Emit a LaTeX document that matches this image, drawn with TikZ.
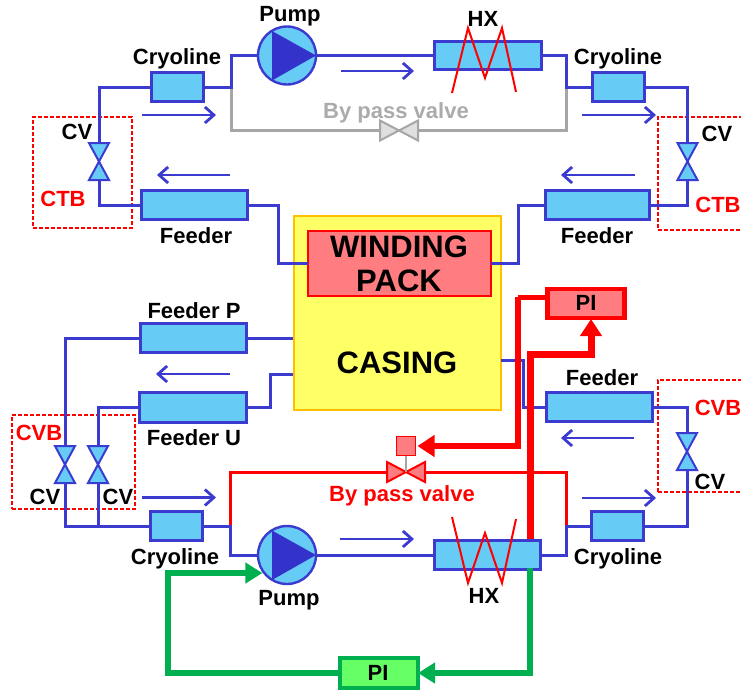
\documentclass[tikz,border=0pt]{standalone}
\usepackage{fontspec}
\setmainfont{Liberation Sans}
\usetikzlibrary{arrows.meta,calc}
\definecolor{pipeblue}{HTML}{3B3BD0}
\definecolor{deepblue}{HTML}{3333CC}
\definecolor{cyanfill}{HTML}{66CCF5}
\definecolor{wpfill}{HTML}{FF7C80}
\definecolor{casefill}{HTML}{FFFF66}
\definecolor{caseedge}{HTML}{FFC000}
\definecolor{greyline}{HTML}{A6A6A6}
\definecolor{greytext}{HTML}{ABABAB}
\definecolor{greenline}{HTML}{00B050}
\definecolor{greenfill}{HTML}{66FF66}
\tikzset{
  cbox/.style={draw=pipeblue,fill=cyanfill,line width=3pt,inner sep=0pt,outer sep=0pt},
  pipe/.style={draw=pipeblue,line width=3pt,line join=miter},
  greypipe/.style={draw=greyline,line width=3pt},
  redpipe/.style={draw=red,line width=3pt},
  flow/.style={draw=pipeblue,line width=2.8pt,-{Straight Barb[length=9pt,width=16pt,line width=2.8pt]}},
  lab/.style={font=\fontsize{22}{22}\selectfont\bfseries,text=black,inner sep=0pt,outer sep=0pt,text height=15.8pt,text depth=0pt},
  redlab/.style={lab,text=red},
  greylab/.style={lab,text=greytext},
  dashbox/.style={draw=red,dash pattern=on 4pt off 2pt,line width=1.2pt,inner sep=0pt,outer sep=0pt},
  vlv/.style={inner sep=0pt,outer sep=0pt},
  vlvblue/.style={draw=pipeblue,fill=cyanfill,line width=2pt,line join=miter},
  vlvgrey/.style={draw=greyline,fill=gray!25,line width=2pt,line join=miter},
  vlvred/.style={draw=red,fill=wpfill,line width=2pt,line join=miter},
  zig/.style={draw=red,line width=2pt,line join=miter},
  hotline/.style={draw=red,line width=7pt,-{Triangle[length=17pt,width=21pt]}},
  coldline/.style={draw=greenline,line width=5.5pt},
  coldtip/.style={coldline,-{Triangle[length=17pt,width=20pt]}},
}
\newcommand{\vvalve}[3]{%
  \node[vlv,minimum width=20pt,minimum height=37pt] (#1) at (#2,#3) {};
  \draw[vlvblue] (#1.north west) -- (#1.north east) -- (#1.south west) -- (#1.south east) -- cycle;}
\newcommand{\hvalve}[4]{%
  \node[vlv,minimum width=38pt,minimum height=20pt] (#1) at (#2,#3) {};
  \draw[#4] (#1.north west) -- (#1.south west) -- (#1.north east) -- (#1.south east) -- cycle;}
\newcommand{\pumpnode}[3]{%
  \node[circle,draw=pipeblue,fill=cyanfill,line width=2.4pt,minimum size=58pt,inner sep=0pt,outer sep=0pt] (#1) at (#2,#3) {};
  \fill[deepblue] ($(#1.center)+(-15,-24.5)$) -- ($(#1.center)+(29,0)$) -- ($(#1.center)+(-15,25)$) -- cycle;}
\newcommand{\flowarrow}[4]{%
  \coordinate (#1s) at (#2,#4);
  \coordinate (#1e) at (#3,#4);
  \draw[flow] (#1s) -- (#1e);}
\newcommand{\hxzig}[6]{%
  \coordinate (#1a) at (452,#2);
  \coordinate (#1b) at (468,#3);
  \coordinate (#1c) at (485,#4);
  \coordinate (#1d) at (502,#5);
  \coordinate (#1f) at (516,#6);
  \draw[zig] (#1a) -- (#1b) -- (#1c) -- (#1d) -- (#1f);}
\begin{document}
\begin{tikzpicture}[x=1pt,y=-1pt]
\path[use as bounding box,clip] (0,0) rectangle (741,694);

% dashed groups
\node[dashbox,minimum width=99pt,minimum height=111pt] (ctbL) at (82.5,172.5) {};
\node[dashbox,minimum width=100pt,minimum height=113pt] (ctbR) at (708,173.5) {};
\node[dashbox,minimum width=123pt,minimum height=94pt] (cvbL) at (73.5,462) {};
\node[dashbox,minimum width=100pt,minimum height=112pt] (cvbR) at (708,436) {};

% central blocks
\node[draw=caseedge,fill=casefill,line width=2pt,minimum width=207pt,minimum height=194pt,inner sep=0pt,outer sep=0pt] (casing) at (397,312.5) {};
\node[draw=red,fill=wpfill,line width=2pt,minimum width=183pt,minimum height=65pt,inner sep=0pt,outer sep=0pt] (wp) at (399,263) {};

% upper loop components
\node[cbox,minimum width=52pt,minimum height=29pt] (cryTL) at (177.5,87) {};
\node[cbox,minimum width=52pt,minimum height=29pt] (cryTR) at (618,87) {};
\node[cbox,minimum width=107pt,minimum height=28pt] (hxT) at (488,55.5) {};
\node[cbox,minimum width=106pt,minimum height=29pt] (feedTL) at (194.5,205) {};
\node[cbox,minimum width=104pt,minimum height=29pt] (feedTR) at (597.5,205) {};
\pumpnode{pumpT}{287}{55.5}
\vvalve{cvTL}{99}{161.5}
\vvalve{cvTR}{687.5}{161.5}
\hvalve{bypT}{399}{130.5}{vlvgrey}

% lower loop components
\node[cbox,minimum width=106pt,minimum height=29pt] (feedP) at (193.5,338) {};
\node[cbox,minimum width=107pt,minimum height=30pt] (feedU) at (193,407.5) {};
\node[cbox,minimum width=106pt,minimum height=29pt] (feedBR) at (599,407) {};
\node[cbox,minimum width=52pt,minimum height=29pt] (cryBL) at (176.5,526) {};
\node[cbox,minimum width=52pt,minimum height=29pt] (cryBR) at (617.5,526) {};
\node[cbox,minimum width=106pt,minimum height=29pt] (hxB) at (487.5,555) {};
\pumpnode{pumpB}{287}{555}
\vvalve{cvB1}{65}{464.5}
\vvalve{cvB2}{98}{464.5}
\vvalve{cvB3}{687}{451.5}
\hvalve{bypB}{406}{472}{vlvred}

% controllers
\node[draw=red,fill=wpfill,line width=4.5pt,minimum width=77pt,minimum height=29pt,inner sep=0pt,outer sep=0pt] (piR) at (586,303.5) {};
\node[draw=greenline,fill=greenfill,line width=4pt,minimum width=78pt,minimum height=30pt,inner sep=0pt,outer sep=0pt] (piG) at (379,673) {};
\node[draw=red,fill=wpfill,line width=1.4pt,minimum size=19pt,inner sep=0pt,outer sep=0pt] (act) at (406,446) {};

% junctions
\coordinate (jTL) at (231,87);
\coordinate (jTR) at (566.5,87);
\coordinate (kTL) at (278,263);
\coordinate (kTR) at (518,263);
\coordinate (jBL) at (230,526);
\coordinate (jBR) at (566,526);
\coordinate (cvTie) at (98,526);
\coordinate (cP) at (293,338);
\coordinate (cU) at (293,374);
\coordinate (kU) at (270,374);
\coordinate (cR) at (501,360);
\coordinate (kR) at (523,360);

% grey bypass
\draw[greypipe] (jTL) |- (bypT.west);
\draw[greypipe] (bypT.east) -| (jTR);

% red bypass
\draw[redpipe] (jBL) |- (bypB.west);
\draw[redpipe] (bypB.east) -| (jBR);
\draw[draw=greyline,line width=1.6pt] (act.south) -- (bypB.center);

% upper blue pipes
\draw[pipe] (cvTL.north) |- (cryTL.west);
\draw[pipe] (cryTL.east) -- (jTL) |- (pumpT.west);
\draw[pipe] (pumpT.east) -- (hxT.west);
\draw[pipe] (hxT.east) -| (jTR) -- (cryTR.west);
\draw[pipe] (cryTR.east) -| (cvTR.north);
\draw[pipe] (cvTR.south) |- (feedTR.east);
\draw[pipe] (feedTR.west) -| (kTR) -- (wp.east);
\draw[pipe] (feedTL.east) -| (kTL) -- (wp.west);
\draw[pipe] (feedTL.west) -| (cvTL.south);

% lower blue pipes
\draw[pipe] (feedP.east) -- (cP);
\draw[pipe] (feedP.west) -| (cvB1.north);
\draw[pipe] (feedU.east) -| (kU) -- (cU);
\draw[pipe] (feedU.west) -| (cvB2.north);
\draw[pipe] (cvB1.south) |- (cryBL.west);
\draw[pipe] (cvB2.south) -- (cvTie);
\draw[pipe] (cryBL.east) -- (jBL) |- (pumpB.west);
\draw[pipe] (pumpB.east) -- (hxB.west);
\draw[pipe] (hxB.east) -| (jBR) -- (cryBR.west);
\draw[pipe] (cryBR.east) -| (cvB3.south);
\draw[pipe] (cvB3.north) |- (feedBR.east);
\draw[pipe] (cR) -- (kR) |- (feedBR.west);

% flow direction arrows
\flowarrow{fa}{142}{216}{115}
\flowarrow{fb}{341}{414}{71}
\flowarrow{fc}{582}{656}{115}
\flowarrow{fd}{230}{157}{175}
\flowarrow{fe}{635}{561}{175}
\flowarrow{ff}{230}{156}{374}
\flowarrow{fg}{634}{561}{438}
\flowarrow{fh}{142}{216}{497.5}
\flowarrow{fi}{340}{414}{539}
\flowarrow{fj}{582}{656}{498}

% HX heating coils
\hxzig{zt}{93}{28}{78}{28}{92}
\hxzig{zb}{517}{583}{533}{583}{519}

% red control lines
\coordinate (r1) at (545,297);
\coordinate (r2) at (518,297);
\coordinate (r3) at (530,539);
\coordinate (r4) at (530,354);
\coordinate (r5) at (591,319);
\draw[draw=red,line width=5pt] (r1) -- (r2);
\draw[hotline,line width=6pt,shorten >=2pt] (r2) |- (act.east);
\draw[hotline] (r3) -- (r4) -| (r5);

% green control lines
\coordinate (g1) at (530,568);
\coordinate (g2) at (168,573);
\draw[coldtip] (g1) |- (piG.east);
\draw[coldtip] (piG.west) -| (g2) -- (g2 -| pumpB.212);

% texts
\node[lab] (t1) at (290,14) {Pump};
\node[lab] (t2) at (289,598) {Pump};
\node[lab] (t3) at (177,57) {Cryoline};
\node[lab] (t4) at (618,57) {Cryoline};
\node[lab] (t5) at (175,557) {Cryoline};
\node[lab] (t6) at (618,557) {Cryoline};
\node[lab] (t7) at (483,19) {HX};
\node[lab] (t8) at (484,596) {HX};
\node[lab] (t9) at (196,236) {Feeder};
\node[lab] (t10) at (597,236) {Feeder};
\node[lab] (t11) at (602,378) {Feeder};
\node[lab] (t12) at (194,311) {Feeder P};
\node[lab] (t13) at (194,438) {Feeder U};
\node[lab] (t14) at (77,132) {CV};
\node[lab] (t15) at (717,134) {CV};
\node[lab] (t16) at (45,497) {CV};
\node[lab] (t17) at (118,497) {CV};
\node[lab] (t18) at (710,482) {CV};
\node[redlab] (t19) at (63,199) {CTB};
\node[redlab] (t20) at (718,205) {CTB};
\node[redlab] (t21) at (39,433) {CVB};
\node[redlab] (t22) at (718,408) {CVB};
\node[greylab] (t23) at (396,111) {By pass valve};
\node[redlab] (t24) at (402,494) {By pass valve};
\node[lab] (t25) at (586,303) {PI};
\node[lab] (t26) at (378,673) {PI};
\node[lab,font=\fontsize{31}{31}\selectfont\bfseries,text height=22.2pt] (t27) at (399,246) {WINDING};
\node[lab,font=\fontsize{31}{31}\selectfont\bfseries,text height=22.2pt] (t28) at (399,280) {PACK};
\node[lab,font=\fontsize{31}{31}\selectfont\bfseries,text height=22.2pt] (t29) at (397,362) {CASING};
\end{tikzpicture}
\end{document}
